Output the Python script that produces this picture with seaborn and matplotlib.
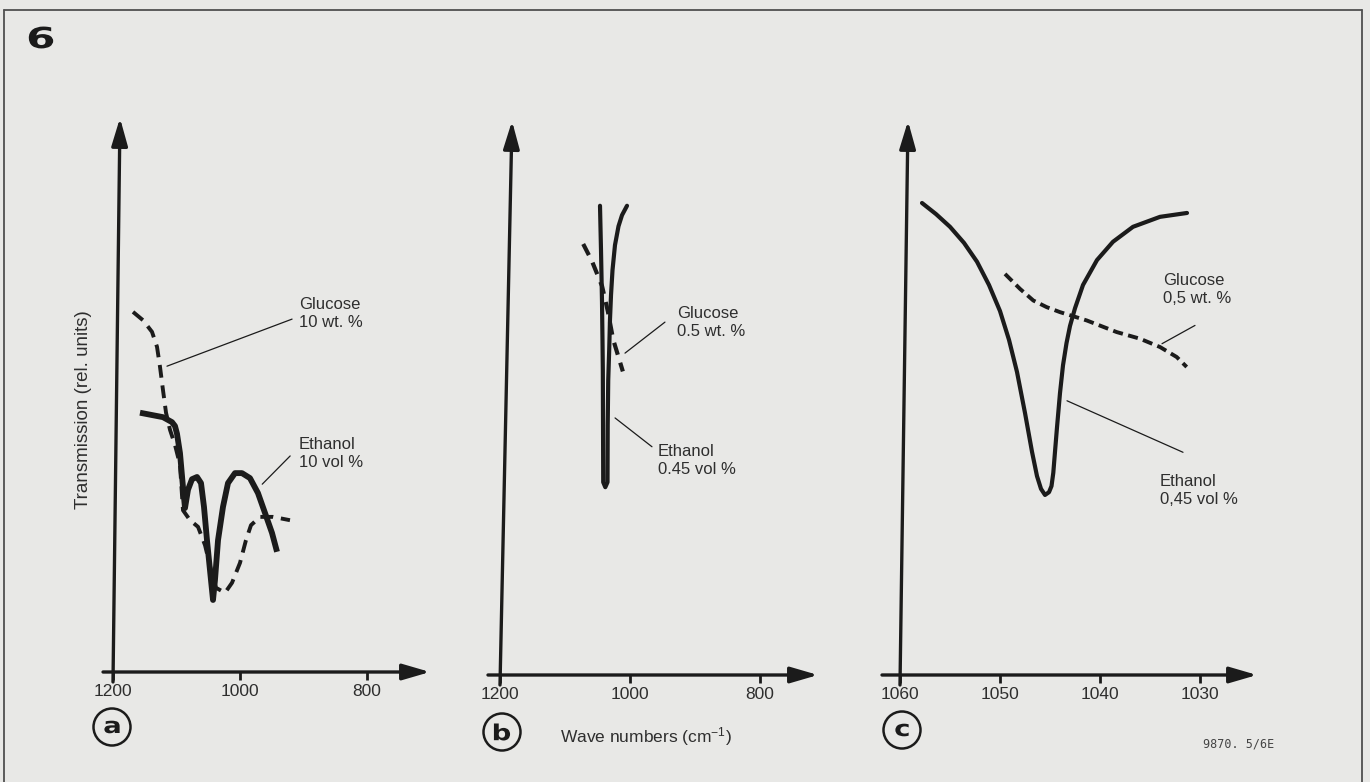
import matplotlib.pyplot as plt
import seaborn as sns
from matplotlib.font_manager import FontProperties
from matplotlib.lines import Line2D
from matplotlib.patches import Ellipse, PathPatch
from matplotlib.textpath import TextPath
from matplotlib.transforms import Affine2D

W, H = 1370, 782

# panel a: 10 wt. % glucose / 10 vol % ethanol (wave number, transmission)
a_ethanol_wn = [1157.5, 1121.3, 1107.1, 1102.4, 1099.2, 1094.5, 1089.8, 1086.6, 1081.9, 1075.6,
                1067.7, 1061.4, 1056.7, 1052.0, 1045.7, 1042.5, 1039.4, 1034.6, 1026.8,
                1018.9, 1007.9, 996.9, 984.3, 971.7, 960.6, 949.6, 941.7]
a_ethanol_t = [46.8, 46.0, 45.1, 44.4, 43.0, 39.5, 33.4, 29.6, 32.9, 34.8, 35.2, 34.1, 29.8, 23.8,
               16.6, 13.0, 16.6, 23.8, 29.8, 34.1, 35.9, 35.9, 35.0, 32.3, 28.7, 25.1, 21.7]
a_glucose_wn = [1168.5, 1152.8, 1138.6, 1130.7, 1126.0, 1121.3, 1116.5, 1110.2, 1102.4,
                1094.5, 1089.8, 1078.7, 1066.1, 1055.1, 1045.7, 1037.8, 1023.6, 1012.6,
                1000.0, 990.6, 982.7, 968.5, 948.0, 921.3]
a_glucose_t = [65.0, 63.5, 61.4, 58.7, 55.1, 50.9, 46.8, 43.7, 41.0, 37.4, 29.2, 27.4, 26.2,
               22.9, 18.4, 15.2, 14.3, 16.1, 19.7, 23.8, 26.5, 28.0, 28.0, 27.4]

# panel b: 0.5 wt. % glucose / 0.45 vol % ethanol
b_ethanol_wn = [1046.15, 1044.6, 1043.1, 1042.3, 1041.8, 1041.5, 1041.2, 1038.0, 1034.6,
                1034.3, 1033.5, 1032.0, 1030.8, 1029.2, 1026.9, 1023.1, 1017.7, 1012.3, 1004.6]
b_ethanol_t = [84.7, 76.6, 67.5, 60.3, 55.0, 45.1, 34.8, 33.9, 34.8, 45.1, 53.2, 58.7, 64.1,
               68.6, 73.1, 77.6, 81.0, 83.0, 84.7]
b_glucose_wn = [1072.0, 1058.5, 1043.0, 1034.0, 1026.0, 1018.5, 1011.0]
b_glucose_t = [77.8, 74.7, 70.2, 65.6, 60.6, 57.7, 54.8]

# panel c: same samples, expanded scale
c_ethanol_wn = [1057.8, 1056.4, 1055.0, 1053.6, 1052.3, 1051.1, 1050.0, 1049.1, 1048.3, 1047.5,
                1046.8, 1046.3, 1045.9, 1045.5, 1045.1, 1044.85, 1044.67, 1044.5, 1044.3,
                1044.0, 1043.7, 1043.35, 1043.0, 1042.5, 1041.7, 1040.3, 1038.7, 1036.7,
                1034.0, 1031.3]
c_ethanol_t = [85.2, 83.2, 80.9, 78.0, 74.6, 70.4, 65.7, 60.5, 54.7, 47.3, 40.3, 35.9, 33.6,
               32.5, 33.0, 34.1, 36.5, 40.3, 44.7, 50.9, 55.9, 59.9, 63.0, 66.2, 70.4, 74.9,
               78.2, 80.9, 82.7, 83.4]
c_glucose_wn = [1049.5, 1048.0, 1046.67, 1045.33, 1044.0, 1041.33, 1038.33, 1036.0, 1034.0,
                1032.33, 1031.33]
c_glucose_t = [72.4, 69.7, 67.6, 66.4, 65.5, 64.0, 61.9, 60.7, 59.2, 57.4, 55.6]

ticks_a = [1200, 1000, 800]
ticks_b = [1200, 1000, 800]
ticks_c = [1060, 1050, 1040, 1030]

INK = "#1b1b1b"
TXT = "#2e2e2e"
BG = "#e8e8e6"

sns.set_theme(style="white")
plt.rcParams["font.family"] = ["Liberation Sans", "DejaVu Sans"]
plt.rcParams["mathtext.default"] = "regular"

fig = plt.figure(figsize=(W / 100, H / 100), dpi=100)
fig.patch.set_facecolor(BG)

PX_PER_T = 5.54
BOLD = FontProperties(family="DejaVu Sans", weight="bold")


def make_panel(left, right, wn0, px0, scale, py0, ticks):
    """Axes whose data units line up with the drawn axes of one panel."""
    top, bottom = 100, 705
    ax = fig.add_axes([left / W, 1 - bottom / H, (right - left) / W, (bottom - top) / H])
    ax.set_xlim(wn0 + (px0 - left) / scale, wn0 - (right - px0) / scale)
    ax.set_ylim((py0 - bottom) / PX_PER_T, (py0 - top) / PX_PER_T)
    ax.set_facecolor("none")
    for spine in ax.spines.values():
        spine.set_visible(False)
    ax.spines["bottom"].set_position(("data", 0))
    ax.set_yticks([])
    ax.set_xticks(ticks)
    ax.set_xticklabels([str(t) for t in ticks])
    ax.tick_params(axis="x", direction="out", length=6, width=2.0, pad=2.5,
                   labelsize=12.5, color=INK, labelcolor=TXT, bottom=True)
    return ax


def draw_axes_arrows(ax, x_start, x_tip, y_base, y_tip_x):
    head = dict(arrowstyle="-|>,head_length=1.2,head_width=0.35", lw=2.4, color=INK,
                mutation_scale=14, shrinkA=0, shrinkB=0)
    ax.annotate("", xy=(x_tip, 0), xytext=(x_start, 0), arrowprops=head)
    ax.annotate("", xy=(y_tip_x, 100), xytext=(y_base, -1.8), arrowprops=head)


def label(ax, text, xy_line, xy_end, xy_text):
    ax.plot([xy_line[0], xy_end[0]], [xy_line[1], xy_end[1]], lw=0.9, color=INK)
    ax.text(xy_text[0], xy_text[1], text, ha="left", va="center", fontsize=12,
            color=TXT, linespacing=1.25)


def wide_glyph(text, cx, cy, size, sx):
    # heavy, horizontally stretched lettering (pixel coordinates, origin top-left)
    tp = TextPath((0, 0), text, size=size, prop=BOLD)
    ext = tp.get_extents()
    tr = (Affine2D().translate(-(ext.x0 + ext.x1) / 2, -(ext.y0 + ext.y1) / 2)
          .scale(sx, 1.0).translate(cx, H - cy))
    fig.add_artist(PathPatch(tp, transform=tr, fc=INK, lw=0))


# ---- panel a
ax_a = make_panel(60, 450, 1200, 113, 0.635, 672, ticks_a)
draw_axes_arrows(ax_a, 1215.7, 700.8, 1200, 1189)
sns.lineplot(x=a_glucose_wn, y=a_glucose_t, ax=ax_a, sort=False, estimator=None,
             color=INK, lw=2.8, linestyle=(0, (3.3, 2.0)))
sns.lineplot(x=a_ethanol_wn, y=a_ethanol_t, ax=ax_a, sort=False, estimator=None,
             color=INK, lw=4.2, solid_joinstyle="round", solid_capstyle="butt")
label(ax_a, "Glucose\n10 wt. %", (1115, 55.2), (918, 63.7), (907, 64.8))
label(ax_a, "Ethanol\n10 vol %", (965, 33.9), (921, 39.0), (907, 39.5))

# ---- panel b
ax_b = make_panel(470, 850, 1200, 500, 0.65, 675, ticks_b)
draw_axes_arrows(ax_b, 1218.5, 710.8, 1200, 1181.5)
sns.lineplot(x=b_glucose_wn, y=b_glucose_t, ax=ax_b, sort=False, estimator=None,
             color=INK, lw=3.0, linestyle=(0, (3.0, 2.0)))
sns.lineplot(x=b_ethanol_wn, y=b_ethanol_t, ax=ax_b, sort=False, estimator=None,
             color=INK, lw=3.0, solid_joinstyle="round", solid_capstyle="round")
label(ax_b, "Glucose\n0.5 wt. %", (1007.7, 58.1), (946.2, 63.7), (927.7, 63.7))
label(ax_b, "Ethanol\n0.45 vol %", (1023, 46.4), (966.2, 41.2), (956.9, 38.8))

# ---- panel c
ax_c = make_panel(870, 1300, 1060, 900, 10.0, 675, ticks_c)
draw_axes_arrows(ax_c, 1061.8, 1024.3, 1060, 1059.2)
sns.lineplot(x=c_glucose_wn, y=c_glucose_t, ax=ax_c, sort=False, estimator=None,
             color=INK, lw=2.8, linestyle=(0, (2.6, 1.4)))
sns.lineplot(x=c_ethanol_wn, y=c_ethanol_t, ax=ax_c, sort=False, estimator=None,
             color=INK, lw=3.0, solid_joinstyle="round")
label(ax_c, "Glucose\n0,5 wt. %", (1033.8, 59.8), (1030.5, 63.1), (1033.7, 69.5))
label(ax_c, "Ethanol\n0,45 vol %", (1043.3, 49.5), (1031.7, 40.2), (1034.0, 33.3))

# ---- figure furniture
fig.text(83 / W, 1 - 410 / H, "Transmission (rel. units)", rotation=90, ha="center",
         va="center", fontsize=13.5, color=TXT)
fig.text(560 / W, 1 - 737 / H, "Wave numbers (cm$^{-1}$)", ha="left", va="center",
         fontsize=12.5, color=TXT)
fig.text(1203 / W, 1 - 744 / H, "9870. 5/6E", ha="left", va="center", fontsize=8.5,
         family="DejaVu Sans Mono", color="#444444")
wide_glyph("6", 41, 37.5, 29, 1.45)

for letter, cx, cy in [("a", 112, 727), ("b", 502, 732), ("c", 902, 730)]:
    fig.add_artist(Ellipse((cx / W, 1 - cy / H), 37 / W, 37 / H, transform=fig.transFigure,
                           fill=False, lw=1.8, ec=INK))
    wide_glyph(letter, cx, cy, 22, 1.25)

frame = dict(transform=fig.transFigure, lw=1.3, color="#505050")
fig.add_artist(Line2D([4 / W, 1362 / W], [1 - 10 / H, 1 - 10 / H], **frame))
fig.add_artist(Line2D([4 / W, 4 / W], [0, 1 - 10 / H], **frame))
fig.add_artist(Line2D([1362 / W, 1362 / W], [0, 1 - 10 / H], **frame))

fig.savefig("out.png", dpi=100, facecolor=BG)
